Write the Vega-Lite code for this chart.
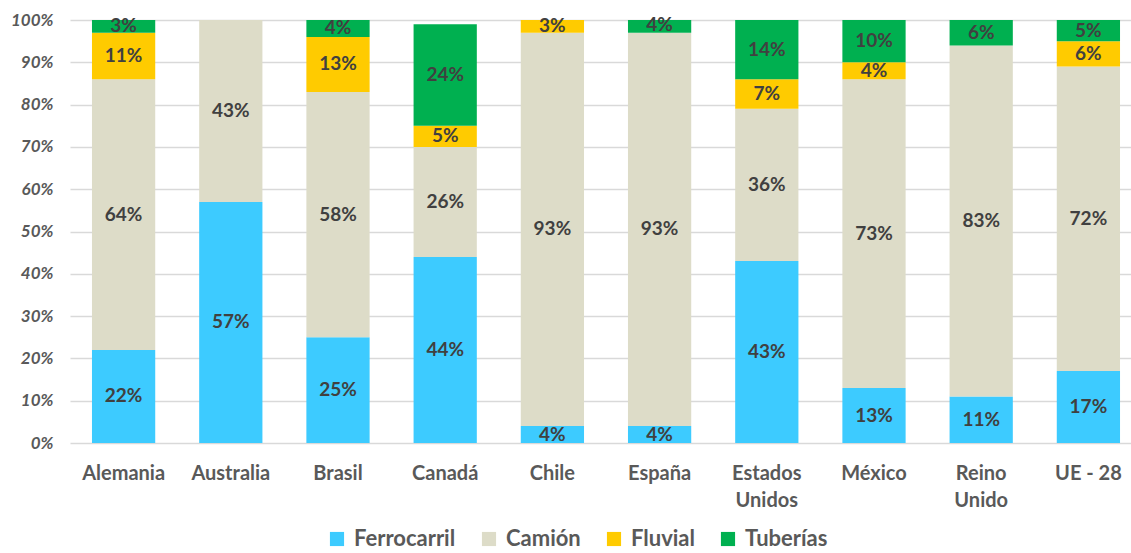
{
  "$schema": "https://vega.github.io/schema/vega-lite/v6.json",
  "autosize": "none",
  "width": 1072,
  "height": 423,
  "padding": {"left": 70, "top": 20, "right": 0, "bottom": 110},
  "background": "white",
  "config": {
    "view": {"stroke": null},
    "font": "Lato"
  },
  "data": {
    "values": [
      {"pais": "Alemania", "modo": "Ferrocarril", "orden": 1, "valor": 0.22},
      {"pais": "Alemania", "modo": "Camión", "orden": 2, "valor": 0.64},
      {"pais": "Alemania", "modo": "Fluvial", "orden": 3, "valor": 0.11},
      {"pais": "Alemania", "modo": "Tuberías", "orden": 4, "valor": 0.03},
      {"pais": "Australia", "modo": "Ferrocarril", "orden": 1, "valor": 0.57},
      {"pais": "Australia", "modo": "Camión", "orden": 2, "valor": 0.43},
      {"pais": "Brasil", "modo": "Ferrocarril", "orden": 1, "valor": 0.25},
      {"pais": "Brasil", "modo": "Camión", "orden": 2, "valor": 0.58},
      {"pais": "Brasil", "modo": "Fluvial", "orden": 3, "valor": 0.13},
      {"pais": "Brasil", "modo": "Tuberías", "orden": 4, "valor": 0.04},
      {"pais": "Canadá", "modo": "Ferrocarril", "orden": 1, "valor": 0.44},
      {"pais": "Canadá", "modo": "Camión", "orden": 2, "valor": 0.26},
      {"pais": "Canadá", "modo": "Fluvial", "orden": 3, "valor": 0.05},
      {"pais": "Canadá", "modo": "Tuberías", "orden": 4, "valor": 0.24},
      {"pais": "Chile", "modo": "Ferrocarril", "orden": 1, "valor": 0.04},
      {"pais": "Chile", "modo": "Camión", "orden": 2, "valor": 0.93},
      {"pais": "Chile", "modo": "Fluvial", "orden": 3, "valor": 0.03},
      {"pais": "España", "modo": "Ferrocarril", "orden": 1, "valor": 0.04},
      {"pais": "España", "modo": "Camión", "orden": 2, "valor": 0.93},
      {"pais": "España", "modo": "Tuberías", "orden": 4, "valor": 0.035},
      {"pais": "Estados Unidos", "modo": "Ferrocarril", "orden": 1, "valor": 0.43},
      {"pais": "Estados Unidos", "modo": "Camión", "orden": 2, "valor": 0.36},
      {"pais": "Estados Unidos", "modo": "Fluvial", "orden": 3, "valor": 0.07},
      {"pais": "Estados Unidos", "modo": "Tuberías", "orden": 4, "valor": 0.14},
      {"pais": "México", "modo": "Ferrocarril", "orden": 1, "valor": 0.13},
      {"pais": "México", "modo": "Camión", "orden": 2, "valor": 0.73},
      {"pais": "México", "modo": "Fluvial", "orden": 3, "valor": 0.04},
      {"pais": "México", "modo": "Tuberías", "orden": 4, "valor": 0.10},
      {"pais": "Reino Unido", "modo": "Ferrocarril", "orden": 1, "valor": 0.11},
      {"pais": "Reino Unido", "modo": "Camión", "orden": 2, "valor": 0.83},
      {"pais": "Reino Unido", "modo": "Tuberías", "orden": 4, "valor": 0.06},
      {"pais": "UE - 28", "modo": "Ferrocarril", "orden": 1, "valor": 0.17},
      {"pais": "UE - 28", "modo": "Camión", "orden": 2, "valor": 0.72},
      {"pais": "UE - 28", "modo": "Fluvial", "orden": 3, "valor": 0.06},
      {"pais": "UE - 28", "modo": "Tuberías", "orden": 4, "valor": 0.05}
    ]
  },
  "encoding": {
    "x": {
      "field": "pais",
      "type": "nominal",
      "sort": null,
      "scale": {"paddingInner": 0.41, "paddingOuter": 0.205},
      "axis": {
        "title": null,
        "domain": false,
        "ticks": false,
        "labelAngle": 0,
        "labelFont": "Lato",
        "labelFontWeight": "bold",
        "labelFontSize": 20,
        "labelColor": "#595959",
        "labelPadding": 20,
        "labelLineHeight": 27,
        "labelExpr": "datum.label == 'Estados Unidos' ? ['Estados', 'Unidos'] : datum.label == 'Reino Unido' ? ['Reino', 'Unido'] : datum.label"
      }
    },
    "y": {
      "field": "valor",
      "type": "quantitative",
      "stack": "zero",
      "scale": {"domain": [0, 1], "nice": false},
      "axis": {
        "title": null,
        "domain": false,
        "ticks": false,
        "values": [0, 0.1, 0.2, 0.3, 0.4, 0.5, 0.6, 0.7, 0.8, 0.9, 1],
        "format": ".0%",
        "grid": true,
        "gridColor": "#D9D9D9",
        "gridWidth": 1.3,
        "labelFont": "Lato",
        "labelFontStyle": "italic",
        "labelFontWeight": "bold",
        "labelFontSize": 17,
        "labelColor": "#595959",
        "labelPadding": 17
      }
    },
    "order": {"field": "orden", "type": "quantitative"}
  },
  "layer": [
    {
      "mark": {"type": "bar", "clip": true},
      "encoding": {
        "color": {
          "field": "modo",
          "type": "nominal",
          "sort": ["Ferrocarril", "Camión", "Fluvial", "Tuberías"],
          "scale": {
            "domain": ["Ferrocarril", "Camión", "Fluvial", "Tuberías"],
            "range": ["#3DCBFF", "#DDDCC8", "#FFCB00", "#00B050"]
          },
          "legend": {
            "title": null,
            "orient": "none",
            "direction": "horizontal",
            "legendX": 256,
            "legendY": 508,
            "padding": 0,
            "symbolType": "square",
            "symbolSize": 200,
            "symbolStrokeWidth": 0,
            "labelFont": "Lato",
            "labelFontWeight": "bold",
            "labelFontSize": 22,
            "labelColor": "#595959",
            "columnPadding": 22,
            "labelOffset": 6
          }
        }
      }
    },
    {
      "mark": {
        "type": "text",
        "font": "Lato",
        "fontWeight": "bold",
        "fontSize": 19,
        "color": "#404040",
        "baseline": "middle"
      },
      "encoding": {
        "y": {
          "field": "valor",
          "type": "quantitative",
          "stack": "zero",
          "bandPosition": 0.5
        },
        "text": {"field": "valor", "type": "quantitative", "format": ".0%"}
      }
    }
  ]
}
